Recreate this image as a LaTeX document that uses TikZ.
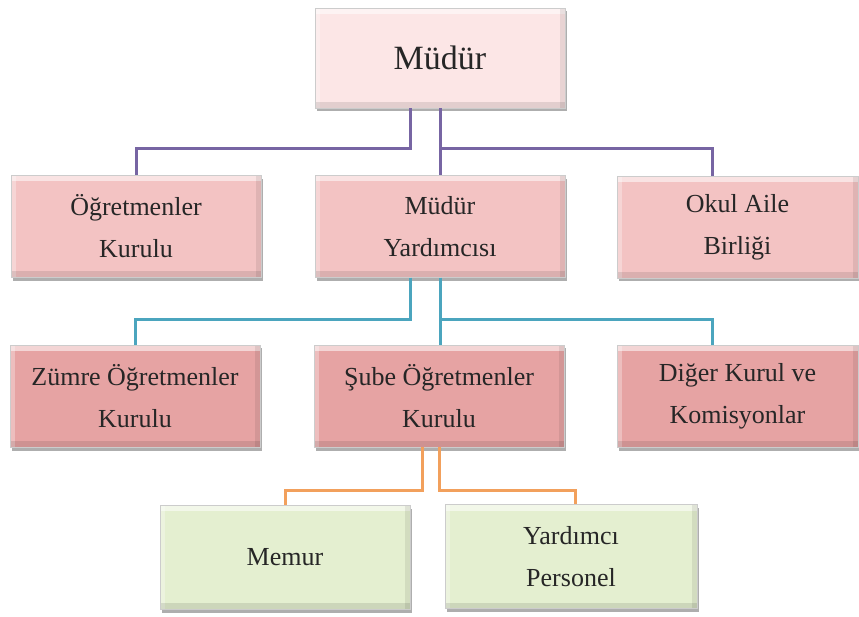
\documentclass[tikz,border=0pt]{standalone}
\usepackage{fontspec}
\setmainfont{Liberation Serif}
\usepackage{xcolor}
\usepackage{tikz}
\usetikzlibrary{shadows,positioning}

\definecolor{topfill}{HTML}{FCE6E6}
\definecolor{midfill}{HTML}{F3C3C3}
\definecolor{lowfill}{HTML}{E6A3A3}
\definecolor{staffill}{HTML}{E4EFD0}
\definecolor{purpleln}{HTML}{7765A3}
\definecolor{tealln}{HTML}{4BA5BE}
\definecolor{orangeln}{HTML}{F2A05C}

\begin{document}
\begin{tikzpicture}[x=1pt, y=1pt, every node/.style={font=\fontsize{26}{42}\selectfont}]
    \tikzstyle{box} = [rectangle, draw=black!20, line width=0.5pt, align=center,
        minimum width=250pt, minimum height=102pt, text=black!85,
        drop shadow={shadow xshift=1.5pt, shadow yshift=-3.5pt, opacity=0.45, fill=black!70},
        path picture={
            \fill [white, opacity=0.55] (path picture bounding box.north west) rectangle ([yshift=-6pt]path picture bounding box.north east);
            \fill [white, opacity=0.3] (path picture bounding box.north west) rectangle ([xshift=5pt]path picture bounding box.south west);
            \fill [black, opacity=0.1] ([yshift=6pt]path picture bounding box.south west) rectangle (path picture bounding box.south east);
            \fill [black, opacity=0.08] ([xshift=-5pt]path picture bounding box.north east) rectangle (path picture bounding box.south east);
        }]
    \tikzstyle{purpleline} = [draw=purpleln, line width=3pt]
    \tikzstyle{tealline} = [draw=tealln, line width=3pt]
    \tikzstyle{orangeline} = [draw=orangeln, line width=3pt]

    \fill [white] (0,0) rectangle (859,-617);
    \useasboundingbox (0,0) rectangle (859,-617);

    \node (mudur) [box, fill=topfill, minimum height=100pt, font=\fontsize{34}{40}\selectfont] at (440,-58) {Müdür};
    \node (ogrk) [box, fill=midfill] at (136,-226.5) {Öğretmenler \\ Kurulu};
    \node (myard) [box, fill=midfill] at (440,-226.5) {Müdür \\ Yardımcısı};
    \node (okul) [box, fill=midfill, minimum width=241pt] at (737.5,-227) {Okul Aile \\ Birliği};
    \node (zumre) [box, fill=lowfill] at (135,-396) {Zümre Öğretmenler \\ Kurulu};
    \node (sube) [box, fill=lowfill] at (439,-396) {Şube Öğretmenler \\ Kurulu};
    \node (diger) [box, fill=lowfill, minimum width=241pt] at (737.5,-396) {Diğer Kurul ve \\ Komisyonlar};
    \node (memur) [box, fill=staffill, minimum height=104pt] at (285,-557) {Memur};
    \node (yper) [box, fill=staffill, minimum width=252pt, minimum height=104pt] at (571,-556.5) {Yardımcı \\ Personel};

    \draw [purpleline] ([xshift=-30pt]mudur.south) -- ++(0,-40pt) -| (ogrk.north);
    \draw [purpleline] (mudur.south) -- (myard.north);
    \draw [purpleline] ([yshift=-40pt]mudur.south) -| ([xshift=-25.5pt]okul.north);

    \draw [tealline] ([xshift=-30pt]myard.south) -- ++(0,-42pt) -| (zumre.north);
    \draw [tealline] (myard.south) -- (myard.south |- sube.north);
    \draw [tealline] ([yshift=-42pt]myard.south) -| ([xshift=-25.5pt]diger.north);

    \draw [orangeline] ([xshift=-17pt]sube.south) -- ++(0,-43pt) -| (memur.north);
    \draw [orangeline] (sube.south) -- ++(0,-43pt) -| ([xshift=4pt]yper.north);
\end{tikzpicture}
\end{document}
